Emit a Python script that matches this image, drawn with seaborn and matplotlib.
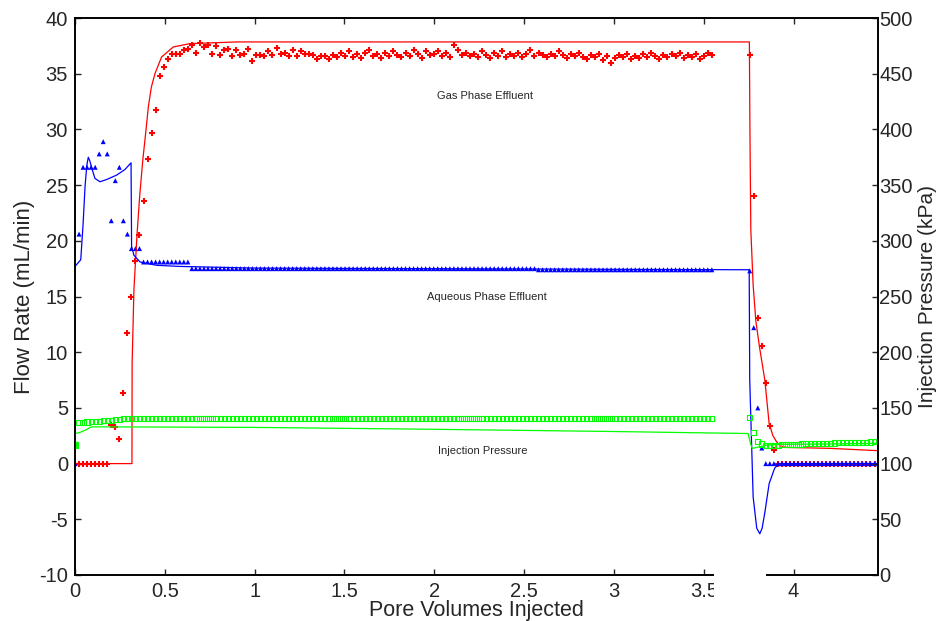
import numpy as np
import matplotlib
matplotlib.use("Agg")
import matplotlib.pyplot as plt
from matplotlib.patches import Rectangle
import seaborn as sns

sns.set_style("ticks")
plt.rcParams["font.family"] = ["Liberation Sans", "DejaVu Sans"]
plt.rcParams["axes.unicode_minus"] = False

# ---- measured effluent / pressure, main flood (regular sampling in pore volumes)
pv_flood = np.linspace(0.0, 3.545, 159)

gas_meas = [
    0, 0, 0, 0, 0, 0, 0, 0, 0,
    3.5, 3.3, 2.2, 6.3, 11.7, 15.0, 18.2, 20.5, 23.6, 27.3,
    29.7, 31.7, 34.8, 35.6, 36.3, 36.8, 36.8, 36.8, 37.1, 37.2,
    37.6, 36.9, 37.8, 37.4, 37.6, 36.8, 37.5, 36.7, 37.1, 37.2,
    36.6, 37.1, 36.7, 36.8, 37.2, 36.1, 36.7, 36.7, 36.6, 37.0,
    36.7, 37.3, 36.8, 36.9, 36.6, 37.1, 36.6, 37.0, 36.8, 36.8,
    36.7, 36.3, 36.6, 36.6, 36.3, 36.7, 36.5, 36.9, 36.6, 37.0,
    36.5, 36.8, 36.4, 36.9, 37.1, 36.6, 36.8, 36.4, 36.9, 36.6,
    37.0, 36.7, 36.5, 36.9, 36.6, 37.1, 36.8, 36.4, 37.0, 36.7,
    36.8, 37.0, 36.6, 36.9, 36.5, 37.6, 37.1, 36.7, 36.9, 36.6,
    36.8, 36.5, 37.0, 36.7, 36.4, 36.9, 36.6, 37.0, 36.5, 36.8,
    36.6, 36.9, 36.5, 36.8, 37.1, 36.6, 36.9, 36.7, 36.5, 36.8,
    36.6, 37.0, 36.7, 36.4, 36.8, 36.6, 36.9, 36.5, 36.3, 36.7,
    36.5, 36.8, 36.2, 36.6, 36.0, 36.4, 36.7, 36.5, 36.8, 36.3,
    36.6, 36.4, 36.8, 36.5, 36.9, 36.6, 36.3, 36.7, 36.5, 36.8,
    36.6, 36.9, 36.4, 36.7, 36.5, 36.8, 36.3, 36.6, 36.9, 36.7,
]

aq_meas = (
    [0.0, 20.6, 26.6, 26.6, 26.6, 26.6, 27.8, 28.9, 27.8, 21.8,
     25.4, 26.6, 21.8, 20.6, 19.3, 19.3, 19.3]
    + [18.1] * 12
    + [17.5] * 86
    + [17.4] * 44
)

press_meas = (
    [116.7, 136.7, 137.0, 137.3, 137.5, 137.8, 138.0, 138.4, 138.7,
     139.0, 139.4, 139.8, 140.2, 140.5]
    + [140.7] * 145
)

# ---- measured values after switching injection
pv_post = np.linspace(3.756, 4.473, 33)

gas_meas_post = [36.7, 24.0, 13.1, 10.6, 7.2, 3.4, 1.2] + [0.0] * 26
aq_meas_post = [17.3, 12.2, 5.0, 1.4] + [0.0] * 29
press_meas_post = [
    141.5, 128.0, 119.7, 117.6, 116.4, 116.4, 116.5, 116.6, 116.8, 117.0,
    117.1, 117.3, 117.4, 117.6, 117.7, 117.8, 118.0, 118.1, 118.2, 118.3,
    118.4, 118.5, 118.6, 118.7, 118.8, 118.9, 119.0, 119.1, 119.2, 119.3,
    119.4, 119.5, 119.7,
]

# ---- simulated curves
gas_sim_pv = [0.0, 0.317, 0.318, 0.328, 0.345, 0.36, 0.377, 0.395, 0.408,
              0.425, 0.445, 0.482, 0.547, 0.64, 0.9, 3.754, 3.757, 3.762,
              3.775, 3.79, 3.81, 3.825, 3.84, 3.864, 3.885, 3.905, 3.923,
              3.96, 4.2, 4.47]
gas_sim = [0.0, 0.0, 9.0, 15.6, 20.5, 24.0, 27.2, 29.9, 32.0,
           33.8, 35.0, 36.5, 37.4, 37.7, 37.85, 37.85, 30.0, 21.0,
           16.0, 12.8, 10.5, 9.0, 7.5, 3.6, 2.5, 1.97, 1.6,
           1.45, 1.37, 1.16]

aq_sim_pv = [0.0, 0.032, 0.045, 0.056, 0.066, 0.074, 0.082, 0.092, 0.111,
             0.139, 0.176, 0.232, 0.278, 0.312, 0.315, 0.328, 0.362, 0.454,
             0.584, 1.0, 3.753, 3.756, 3.775, 3.795, 3.812, 3.825, 3.84,
             3.864, 3.895, 3.92, 4.47]
aq_sim = [17.7, 18.3, 21.5, 24.9, 26.8, 27.5, 27.2, 26.6, 25.6,
          25.3, 25.5, 25.9, 26.4, 27.0, 19.5, 18.7, 18.1, 17.8,
          17.7, 17.55, 17.4, 7.5, -3.0, -5.8, -6.3, -5.8, -4.4,
          -1.8, -0.4, 0.0, 0.0]

press_sim_pv = [0.0, 0.0005, 0.028, 0.056, 0.092, 0.5, 1.0, 2.0, 3.0, 3.747,
                3.76, 3.77, 3.79, 3.85, 3.92, 4.2, 4.47]
press_sim = [116.7, 127.0, 128.0, 130.0, 133.0, 132.8, 132.5, 130.8, 128.8,
             127.0, 118.0, 113.7, 114.3, 116.5, 117.3, 117.6, 118.2]

RED, BLUE, GREEN = "#ff0000", "#0000ff", "#00ff00"

fig = plt.figure(figsize=(9.4, 6.21), dpi=100)
ax = fig.add_axes([75 / 940, 46 / 621, 803 / 940, 557 / 621])
ax2 = ax.twinx()

# flow-rate axis: gas and aqueous phase effluent
sns.lineplot(x=gas_sim_pv, y=gas_sim, sort=False, estimator=None,
             color=RED, linewidth=0.9, ax=ax)
sns.lineplot(x=aq_sim_pv, y=aq_sim, sort=False, estimator=None,
             color=BLUE, linewidth=0.9, ax=ax)
for pv, g, a in ((pv_flood, gas_meas, aq_meas),
                 (pv_post, gas_meas_post, aq_meas_post)):
    sns.scatterplot(x=pv, y=g, marker="+", s=16, color=RED,
                    linewidth=1.5, ax=ax)
    sns.scatterplot(x=pv, y=a, marker="^", s=13, color=BLUE,
                    edgecolor="none", ax=ax)

# pressure axis: injection pressure
sns.lineplot(x=press_sim_pv, y=press_sim, sort=False, estimator=None,
             color=GREEN, linewidth=0.9, ax=ax2)
sns.scatterplot(x=[pv_flood[0]], y=[press_meas[0]], marker="s", s=16,
                color=GREEN, edgecolor=GREEN, ax=ax2)
for pv, p in ((pv_flood, press_meas), (pv_post, press_meas_post)):
    sns.scatterplot(x=pv, y=p, marker="s", s=14, color=GREEN,
                    facecolor="none", edgecolor=GREEN, linewidth=0.8, ax=ax2)

ax.set_xlim(0, 4.47)
ax.set_ylim(-10, 40)
ax2.set_ylim(0, 500)
ax.set_xticks([0, 0.5, 1, 1.5, 2, 2.5, 3, 3.5, 4])
ax.set_xticklabels(["0", "0.5", "1", "1.5", "2", "2.5", "3", "3.5", "4"])
ax.set_yticks(np.arange(-10, 41, 5))
ax2.set_yticks(np.arange(0, 501, 50))

ax.tick_params(direction="in", top=True, right=False, length=4, width=1,
               labelsize=14.5, pad=5)
ax2.tick_params(direction="in", length=4, width=1, labelsize=14.5, pad=1)

for a in (ax, ax2):
    for sp in a.spines.values():
        sp.set_linewidth(1.2)
        sp.set_color("black")

ax.set_xlabel("Pore Volumes Injected", fontsize=15.5, labelpad=-1)
ax.set_ylabel("Flow Rate (mL/min)", fontsize=16, labelpad=3)
ax2.set_ylabel("Injection Pressure (kPa)", fontsize=15, labelpad=4)

ax.text(2.28, 33.0, "Gas Phase Effluent", fontsize=8, ha="center", va="center")
ax.text(2.29, 15.0, "Aqueous Phase Effluent", fontsize=8, ha="center", va="center")
ax.text(2.27, 1.1, "Injection Pressure", fontsize=8, ha="center", va="center")

# break in the bottom axis between the two injection stages
fig.add_artist(Rectangle((714 / 940, (621 - 600) / 621), 52 / 940,
                         (600 - 571) / 621, transform=fig.transFigure,
                         facecolor="white", edgecolor="none", zorder=10))

fig.savefig("out.png", dpi=100)
